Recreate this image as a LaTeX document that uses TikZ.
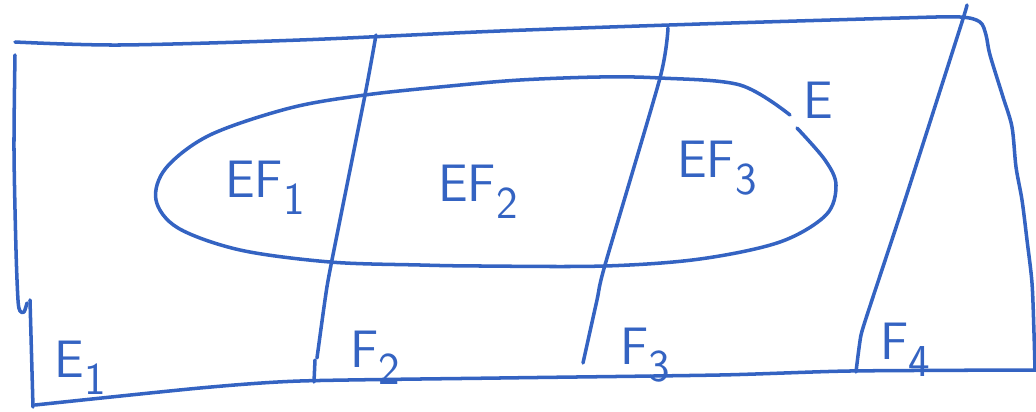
\documentclass[tikz,border=0pt]{standalone}
\definecolor{inkblue}{HTML}{3463C2}
\newcommand{\lowidx}[1]{\raisebox{-0.32em}{\fontsize{26}{26}\selectfont #1}}
\begin{document}
\begin{tikzpicture}[x=0.02cm,y=-0.02cm,
  ink/.style={draw=inkblue, line width=2pt, line cap=round, line join=round},
  lbl/.style={text=inkblue, font=\sffamily\fontsize{30}{30}\selectfont, inner sep=0pt}]
\useasboundingbox (0,0) rectangle (1036,412);
% outer frame
\draw[ink] plot[smooth, tension=0.5] coordinates {(15,42) (120,45) (300,40) (500,31) (700,24) (900,18) (960,17) (980,22) (986,35) (990,55) (1003,97) (1012,127) (1016,167) (1022,200) (1027,240) (1032,283) (1034,333) (1035,370)};
\draw[ink] plot[smooth, tension=0.5] coordinates {(15,55) (14,150) (16,250) (18,300) (20,311) (24,312) (27,303)};
\draw[ink] (30,300) -- (33,407);
\draw[ink] plot[smooth, tension=0.4] coordinates {(35,405) (200,388) (300,381) (500,378) (720,375) (850,371) (1036,370)};
% dividing lines
\draw[ink] plot[smooth, tension=0.4] coordinates {(376,35) (365,95) (331,265) (325,300) (317,358)};
\draw[ink] (315,360) -- (314,382);
\draw[ink] plot[smooth, tension=0.4] coordinates {(668,28) (660,78) (605,265) (597,300) (583,363)};
\draw[ink] plot[smooth, tension=0.3] coordinates {(967,5) (962,22) (905,200) (872,300) (861,335) (856,372)};
% set E
\draw[ink] plot[smooth, tension=0.55] coordinates {(797,128) (825,160) (836,185) (826,215) (780,242) (700,259) (605,266) (480,266) (420,265) (330,262) (240,250) (178,228) (156,200) (166,168) (210,135) (290,108) (365,95) (450,86) (520,80) (600,77) (660,78) (740,85) (790,115)};
% labels
\node[lbl] (lE) at (818,100) {E};
\node[lbl] (lEF1) at (265,188) {EF\lowidx{1}};
\node[lbl] (lEF2) at (478,192) {EF\lowidx{2}};
\node[lbl] (lEF3) at (717,168) {EF\lowidx{3}};
\node[lbl] (lE1) at (80,368) {E\lowidx{1}};
\node[lbl] (lF2) at (375,358) {F\lowidx{2}};
\node[lbl] (lF3) at (645,355) {F\lowidx{3}};
\node[lbl] (lF4) at (905,350) {F\lowidx{4}};
\end{tikzpicture}
\end{document}
